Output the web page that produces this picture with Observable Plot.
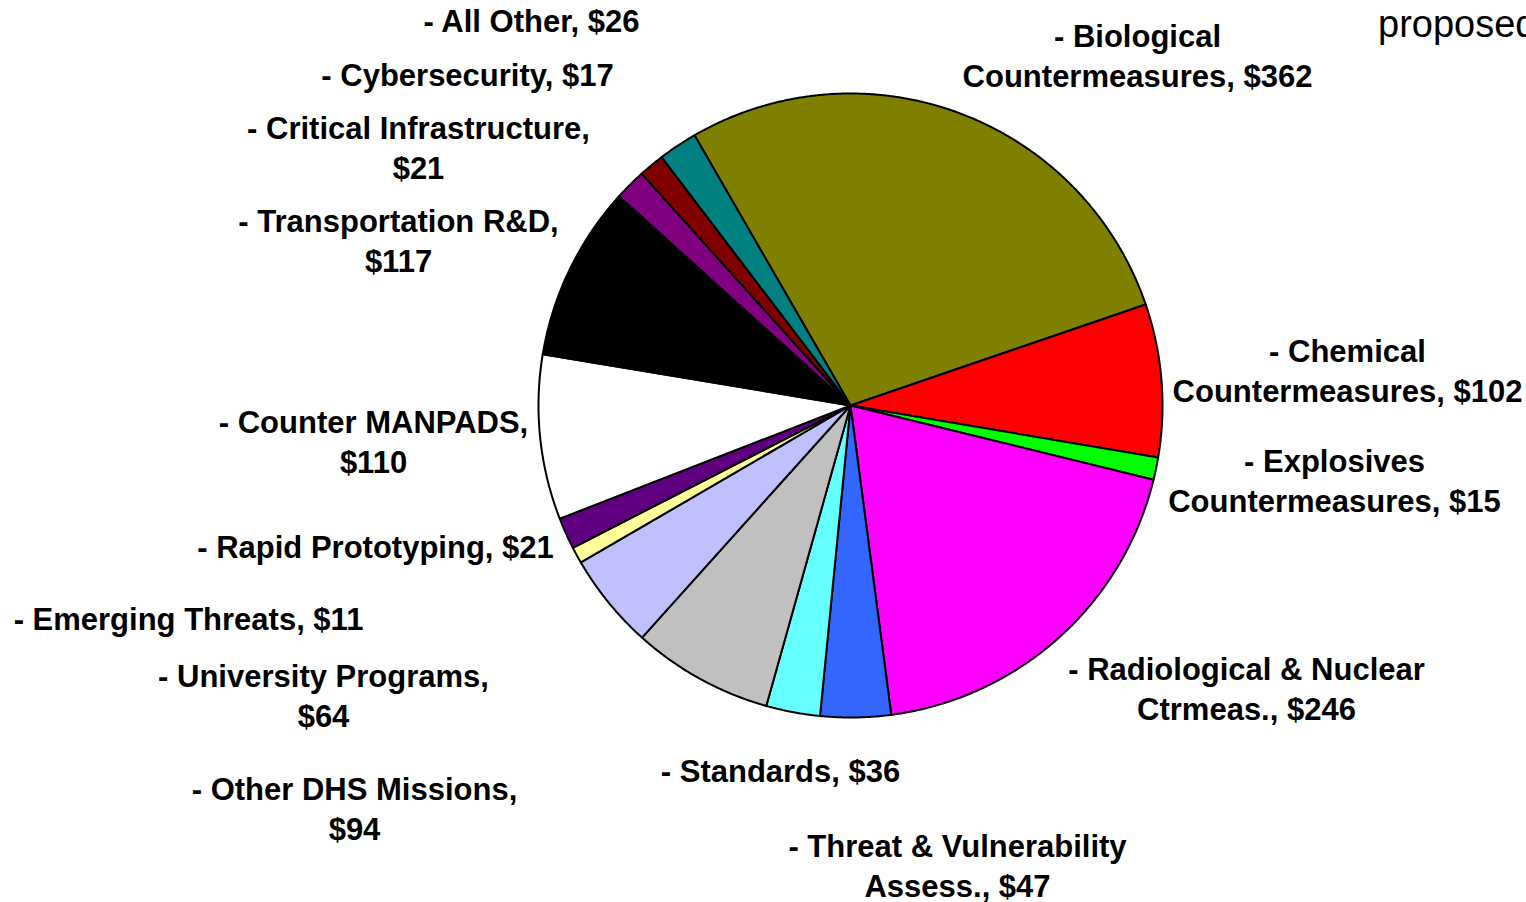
<!DOCTYPE html>
<html>
<head>
<meta charset="utf-8">
<script src="https://cdn.jsdelivr.net/npm/d3@7"></script>
<script src="https://cdn.jsdelivr.net/npm/@observablehq/plot@0.6"></script>
<style>
  html, body { margin: 0; padding: 0; background: #fff; }
  #chart { position: relative; width: 1526px; height: 902px; overflow: hidden; }
  #note { position: absolute; left: 1378px; top: 3px; font: 38px "Liberation Sans", Arial, sans-serif; color: #000; white-space: nowrap; }
</style>
</head>
<body>
<div id="chart"><div id="note">proposed</div></div>
<script>
// ---- data (clockwise from the start angle) ----
const names = [
  "Biological\nCountermeasures",
  "Chemical\nCountermeasures",
  "Explosives\nCountermeasures",
  "Radiological & Nuclear\nCtrmeas.",
  "Threat & Vulnerability\nAssess.",
  "Standards",
  "Other DHS Missions",
  "University Programs",
  "Emerging Threats",
  "Rapid Prototyping",
  "Counter MANPADS",
  "Transportation R&D",
  "Critical Infrastructure",
  "Cybersecurity",
  "All Other"
];
const values = [362, 102, 15, 246, 47, 36, 94, 64, 11, 21, 110, 117, 21, 17, 26];
const colors = [
  "#808000", "#ff0000", "#00ff00", "#ff00ff", "#3366ff",
  "#66ffff", "#c0c0c0", "#c0c0ff", "#ffff99", "#600080",
  "#ffffff", "#000000", "#800080", "#800000", "#008080"
];

// ---- layout ----
const W = 1526, H = 902;
const cx = 850, cy = 405, R = 312;
const startDeg = -30;
// label block centers (px) and whether the value goes on its own line
const labelLayout = [
  {x: 1137, y: 54,  br: false},
  {x: 1347, y: 369, br: false},
  {x: 1334, y: 479, br: false},
  {x: 1246, y: 687, br: false},
  {x: 957,  y: 864, br: false},
  {x: 780,  y: 769, br: false},
  {x: 354,  y: 807, br: true},
  {x: 323,  y: 694, br: true},
  {x: 188,  y: 617, br: false},
  {x: 375,  y: 545, br: false},
  {x: 373,  y: 440, br: true},
  {x: 398,  y: 239, br: true},
  {x: 418,  y: 146, br: true},
  {x: 467,  y: 73,  br: false},
  {x: 531,  y: 19,  br: false}
];

const data = names.map((n, i) => ({name: n, value: values[i], color: colors[i]}));
const start = startDeg * Math.PI / 180;
const arcs = d3.pie().value(d => d.value).sort(null)
  .startAngle(start).endAngle(start + 2 * Math.PI)(data);

// polygon outline for each slice (center -> arc -> center)
const pts = [];
arcs.forEach((a, i) => {
  const n = Math.max(2, Math.ceil((a.endAngle - a.startAngle) / (0.25 * Math.PI / 180)));
  pts.push({slice: i, color: a.data.color, x: cx, y: cy});
  for (let k = 0; k <= n; k++) {
    const t = a.startAngle + (a.endAngle - a.startAngle) * k / n;
    pts.push({slice: i, color: a.data.color, x: cx + R * Math.sin(t), y: cy - R * Math.cos(t)});
  }
});

const labels = data.map((d, i) => ({
  x: labelLayout[i].x,
  y: labelLayout[i].y,
  text: "- " + d.name + "," + (labelLayout[i].br ? "\n" : " ") + "$" + d.value
}));

const plot = Plot.plot({
  width: W,
  height: H,
  margin: 0,
  x: {domain: [0, W], range: [0, W], axis: null},
  y: {domain: [0, H], range: [0, H], axis: null},
  color: {type: "identity"},
  style: {background: "transparent", overflow: "visible"},
  marks: [
    Plot.line(pts, {
      x: "x", y: "y", z: "slice", fill: "color",
      stroke: "#000", strokeWidth: 2, strokeLinejoin: "round",
      curve: "linear-closed"
    }),
    Plot.text(labels, {
      x: "x", y: "y", text: "text",
      textAnchor: "middle", lineAnchor: "middle", lineHeight: 1.26,
      fontSize: 31, fontWeight: "bold",
      fontFamily: "'Liberation Sans', Arial, sans-serif",
      fill: "#000"
    })
  ]
});
plot.style.position = "absolute";
plot.style.left = "0px";
plot.style.top = "0px";
document.getElementById("chart").appendChild(plot);
</script>
</body>
</html>
